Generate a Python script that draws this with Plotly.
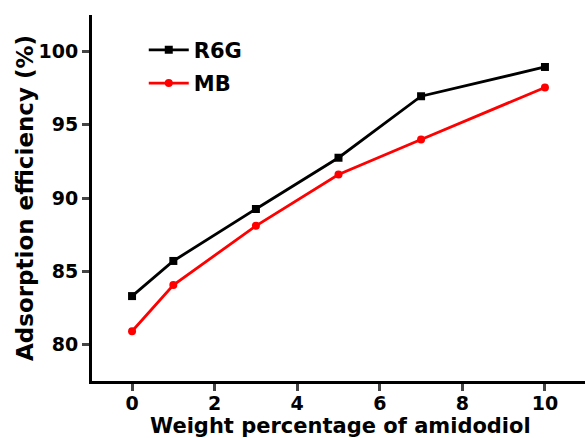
import plotly.graph_objects as go

x_vals = [0, 1, 3, 5, 7, 10]
r6g = [83.3, 85.7, 89.25, 92.75, 96.95, 98.95]
mb = [80.9, 84.05, 88.1, 91.6, 94.0, 97.55]
series_names = ["R6G", "MB"]
x_ticks = [0, 2, 4, 6, 8, 10]
y_ticks = [80, 85, 90, 95, 100]

FONT = "DejaVu Sans, Liberation Sans, Arial, sans-serif"

fig = go.Figure()
fig.add_trace(go.Scatter(x=x_vals, y=r6g, name=series_names[0], mode="lines+markers",
                         legendgroup="g1",
                         line=dict(color="black", width=2.8),
                         marker=dict(symbol="square", size=8, color="black")))
fig.add_trace(go.Scatter(x=x_vals, y=mb, name=series_names[1], mode="lines+markers",
                         legendgroup="g2",
                         line=dict(color="#ff0000", width=2.8),
                         marker=dict(symbol="circle", size=8, color="#ff0000")))

fig.update_layout(
    width=585, height=438,
    margin=dict(l=92, r=0, t=15, b=57),
    plot_bgcolor="white", paper_bgcolor="white",
    font=dict(family=FONT, color="black"),
    showlegend=True,
    legend=dict(x=0.105, y=0.96, xanchor="left", yanchor="top",
                font=dict(family=FONT, size=21, color="black", weight="bold"),
                bgcolor="rgba(0,0,0,0)", tracegroupgap=3, itemwidth=40),
    xaxis=dict(range=[-0.97, 10.97], tickvals=x_ticks, ticks="outside", ticklen=7, tickwidth=3,
               showline=True, linewidth=3, linecolor="black", showgrid=False, zeroline=False,
               ticklabelstandoff=-4,
               tickfont=dict(family=FONT, size=19, color="black", weight="bold")),
    yaxis=dict(range=[77.5, 102.5], tickvals=y_ticks, ticks="outside", ticklen=7, tickwidth=3,
               showline=True, linewidth=3, linecolor="black", showgrid=False, zeroline=False,
               tickfont=dict(family=FONT, size=19, color="black", weight="bold")),
    annotations=[
        dict(text="Weight percentage of amidodiol", xref="paper", yref="paper",
             x=(340 - 92) / 493, y=-(426 - 381) / 366, xanchor="center", yanchor="middle",
             showarrow=False, font=dict(family=FONT, size=21, color="black", weight="bold")),
        dict(text="Adsorption efficiency (%)", xref="paper", yref="paper",
             x=-(92 - 25) / 493, y=(381 - 198) / 366, xanchor="center", yanchor="middle",
             textangle=-90, showarrow=False,
             font=dict(family=FONT, size=23, color="black", weight="bold")),
    ],
)

fig.write_html("out.html")
